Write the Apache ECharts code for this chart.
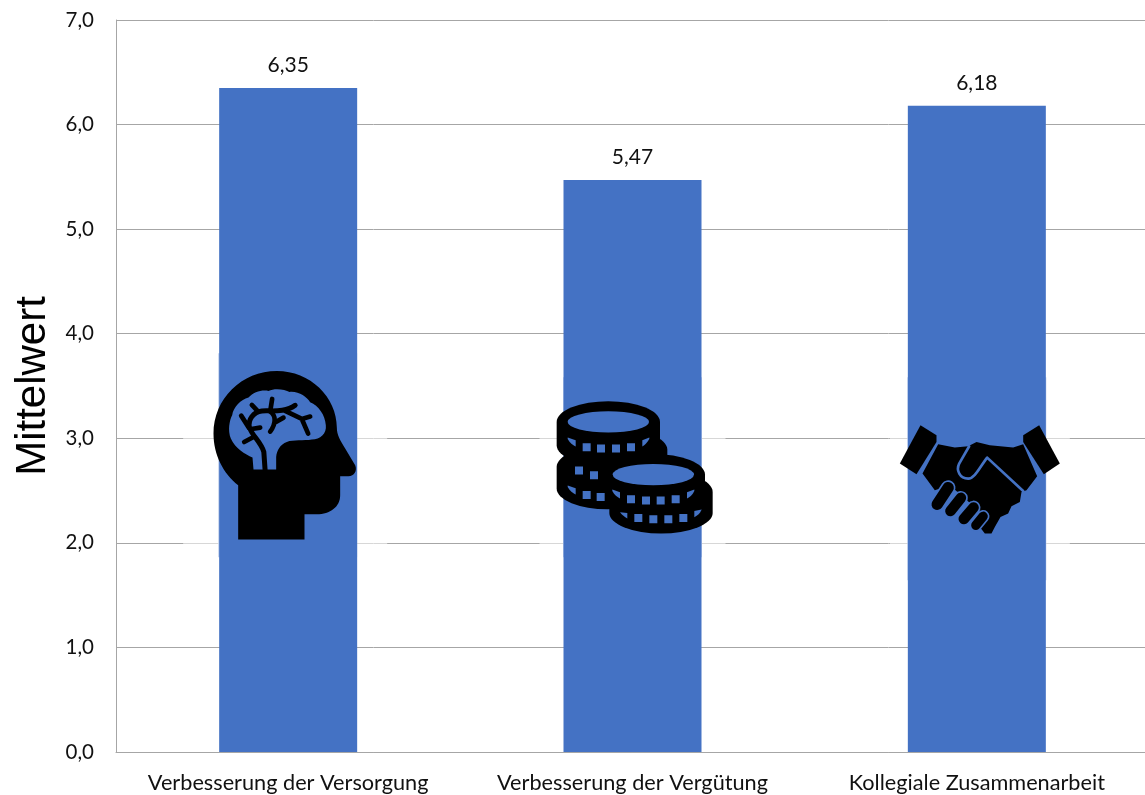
<!DOCTYPE html>
<html><head><meta charset="utf-8">
<script src="https://cdn.jsdelivr.net/npm/echarts@6/dist/echarts.min.js"></script>
<style>html,body{margin:0;padding:0;background:#fff}#c{width:1145px;height:795px}</style>
</head><body><div id="c"></div>
<script>
var categories = ['Verbesserung der Versorgung', 'Verbesserung der Vergütung', 'Kollegiale Zusammenarbeit'];
var values = [6.35, 5.47, 6.18];
var yTicks = [0, 1, 2, 3, 4, 5, 6, 7];
var iconAnchorValue = 3;

var BLUE = '#4472c4', GRID = '#a6a6a6', INK = '#111';
function ell(cx, cy, rx, ry) {
  return 'M' + (cx - rx) + ',' + cy + 'A' + rx + ',' + ry + ' 0 1 1 ' + (cx + rx) + ',' + cy +
         'A' + rx + ',' + ry + ' 0 1 1 ' + (cx - rx) + ',' + cy + 'Z';
}
function coin(x0, x1, top, bot) {
  var rx = (x1 - x0) / 2;
  return 'M' + x0 + ',' + top + 'L' + x0 + ',' + bot + 'A' + rx + ',62 0 0 0 ' + x1 + ',' + bot +
         'L' + x1 + ',' + top + 'A' + rx + ',62 0 0 0 ' + x0 + ',' + top + 'Z';
}
function squares(list) {
  return list.map(function (s) {
    var x = s[0], y = s[1], w = 12;
    return 'M' + (x - w) + ',' + (y - w) + 'L' + (x + w) + ',' + (y - w) + 'L' + (x + w) + ',' + (y + w) + 'L' + (x - w) + ',' + (y + w) + 'Z';
  }).join('');
}
function fillP(d, color) { return {d: d, fill: color}; }
function lineP(d, color, w) { return {d: d, stroke: color, lw: w}; }

var icons = [
  { // head with brain
    ox: 354, oy: 294,
    parts: [
      fillP('M204,598L204,435C160,400 130,345 130,280C130,175 215,92 320,92C420,92 500,170 500,262C500,285 510,300 525,325L555,375C562,392 552,408 535,408L510,408L510,465C510,500 480,522 440,522L403,522L403,598Z', '#000'),
      fillP('M250,388L247,352C225,342 195,325 182,295C172,270 178,240 186,225C190,200 212,178 235,172C250,155 275,148 295,152C315,142 345,148 358,155C385,152 410,170 420,186C445,195 465,225 467,255C470,280 450,298 425,298C400,302 370,298 350,305C330,312 320,330 318,350L318,388Z', BLUE),
      lineP('M285,392L281,335C272,305 245,285 238,262C232,238 250,215 275,212C300,210 345,218 375,195', '#000', 15),
      lineP('M262,212L245,194M300,214L306,176M345,212L395,236L420,229M395,236L414,280M236,262L213,226M244,266L270,262M250,290L222,305M300,214C318,225 318,250 300,274M316,246L340,232', '#000', 14)
    ]
  },
  { // coins
    ox: 307.5, oy: 234,
    parts: [
      fillP(coin(80, 390, 185, 255), '#000'),
      fillP(coin(102, 412, 268, 285), '#000'),
      fillP(coin(80, 385, 320, 385), '#000'),
      fillP(coin(238, 548, 395, 458), '#000'),
      fillP(coin(215, 525, 343, 395), '#000'),
      fillP(ell(235, 185, 122, 32), BLUE),
      fillP(ell(370, 343, 122, 32), BLUE),
      fillP(squares([[170, 261], [213, 265], [258, 265], [303, 261], [147, 331], [192, 345], [170, 404], [212, 410], [303, 417], [348, 421], [392, 421], [437, 417], [325, 473], [370, 477], [415, 477], [460, 473]]), BLUE),
      fillP('M113,236C120,248 128,254 137,259L137,240L113,232Z', BLUE),
      fillP('M358,236C350,248 345,254 337,259L337,240L358,232Z', BLUE),
      fillP('M113,380C120,392 128,398 137,403L137,384L113,376Z', BLUE),
      fillP('M247,392C253,404 262,410 270,415L270,396L247,388Z', BLUE),
      fillP('M493,392C487,404 480,410 471,415L471,396L493,388Z', BLUE),
      fillP('M270,456C276,464 284,470 292,475L292,458Z', BLUE),
      fillP('M515,448C510,460 503,466 493,471L493,452Z', BLUE)
    ]
  },
  { // handshake
    ox: 291, oy: 204,
    parts: [
      fillP('M122,165L170,195L170,215L110,312L60,280Z', '#000'),
      fillP('M478,165L430,195L430,215L492,312L540,280Z', '#000'),
      fillP('M175,222L225,232L265,228L290,215L330,225L400,232L430,222L472,318L440,360L425,365L420,395L395,408L385,430L362,440L345,470L335,490L315,490L300,470L318,440L210,345L165,360L128,310Z', '#000'),
      lineP('M268,228L238,280C228,300 240,325 265,325C285,325 300,290 322,262L430,362', BLUE, 8),
      lineP('M172,402L205,352', BLUE, 44),
      lineP('M212,422L243,383', BLUE, 42),
      lineP('M252,446L281,412', BLUE, 42),
      lineP('M288,465L310,438', BLUE, 38),
      lineP('M172,402L205,352', '#000', 34),
      lineP('M212,422L243,383', '#000', 32),
      lineP('M252,446L281,412', '#000', 32),
      lineP('M288,465L310,438', '#000', 28)
    ]
  }
];

// faded picture backgrounds laid over the grid lines, in px relative to each anchor
var patches = [
  {x: -105, y: -85, w: 204, h: 204, edge: -70, bw: 139},
  {x: -93, y: -61, w: 186, h: 180, edge: -69.5, bw: 139},
  {x: -87, y: -61, w: 180, h: 203, edge: -69.5, bw: 139}
];

var chart = echarts.init(document.getElementById('c'), null, {renderer: 'canvas'});
chart.setOption({
  animation: false,
  backgroundColor: '#fff',
  textStyle: {fontFamily: 'Lato'},
  grid: {left: 116, right: -4, top: 20, bottom: 43, containLabel: false, outerBoundsMode: 'none'},
  xAxis: {
    type: 'category', data: categories,
    axisLine: {lineStyle: {color: GRID, width: 1}},
    axisTick: {show: false},
    axisLabel: {color: INK, fontSize: 21.7, fontFamily: 'Lato', margin: 20, hideOverlap: false, interval: 0}
  },
  yAxis: {
    type: 'value', min: yTicks[0], max: yTicks[yTicks.length - 1], interval: 1,
    name: 'Mittelwert', nameLocation: 'middle', nameGap: 58,
    nameTextStyle: {color: '#000', fontSize: 42, fontFamily: 'Liberation Sans'},
    axisLine: {show: true, lineStyle: {color: GRID, width: 1}},
    axisTick: {show: false},
    axisLabel: {color: INK, fontSize: 20.5, fontFamily: 'Lato', margin: 22,
      formatter: function (v) { return v.toFixed(1).replace('.', ','); }},
    splitLine: {show: true, lineStyle: {color: GRID, width: 1}}
  },
  series: [
    {
      type: 'custom', z: 1, silent: true, clip: false,
      data: categories.map(function (c, i) { return [i, iconAnchorValue]; }),
      encode: {x: 0, y: 1},
      renderItem: function (params, api) {
        var p = patches[params.dataIndex], c = api.coord([api.value(0), api.value(1)]);
        return {type: 'group', x: c[0], y: c[1], children: [
          {type: 'rect', shape: {x: p.x, y: p.y, width: p.w, height: p.h}, style: {fill: 'rgba(255,255,255,0.55)'}},
          {type: 'rect', shape: {x: p.edge, y: p.y, width: p.bw, height: p.h}, style: {fill: '#c5d3ee'}}
        ]};
      }
    },
    {
      type: 'bar', z: 2, data: values, barWidth: 138,
      itemStyle: {color: BLUE},
      label: {show: true, position: 'top', distance: 12, color: INK, fontSize: 21, fontFamily: 'Lato',
        formatter: function (p) { return p.value.toFixed(2).replace('.', ','); }}
    },
    {
      type: 'custom', z: 3, silent: true, clip: false,
      data: categories.map(function (c, i) { return [i, iconAnchorValue]; }),
      encode: {x: 0, y: 1},
      renderItem: function (params, api) {
        var ic = icons[params.dataIndex], c = api.coord([api.value(0), api.value(1)]);
        return {type: 'group', x: c[0], y: c[1], scaleX: 1 / 3, scaleY: 1 / 3,
          children: ic.parts.map(function (part) {
            return {
              type: 'path', x: -ic.ox, y: -ic.oy,
              shape: {pathData: part.d},
              style: part.lw ? {fill: 'none', stroke: part.stroke, lineWidth: part.lw, lineCap: 'round', lineJoin: 'round'} : {fill: part.fill}
            };
          })
        };
      }
    }
  ]
});
</script></body></html>
